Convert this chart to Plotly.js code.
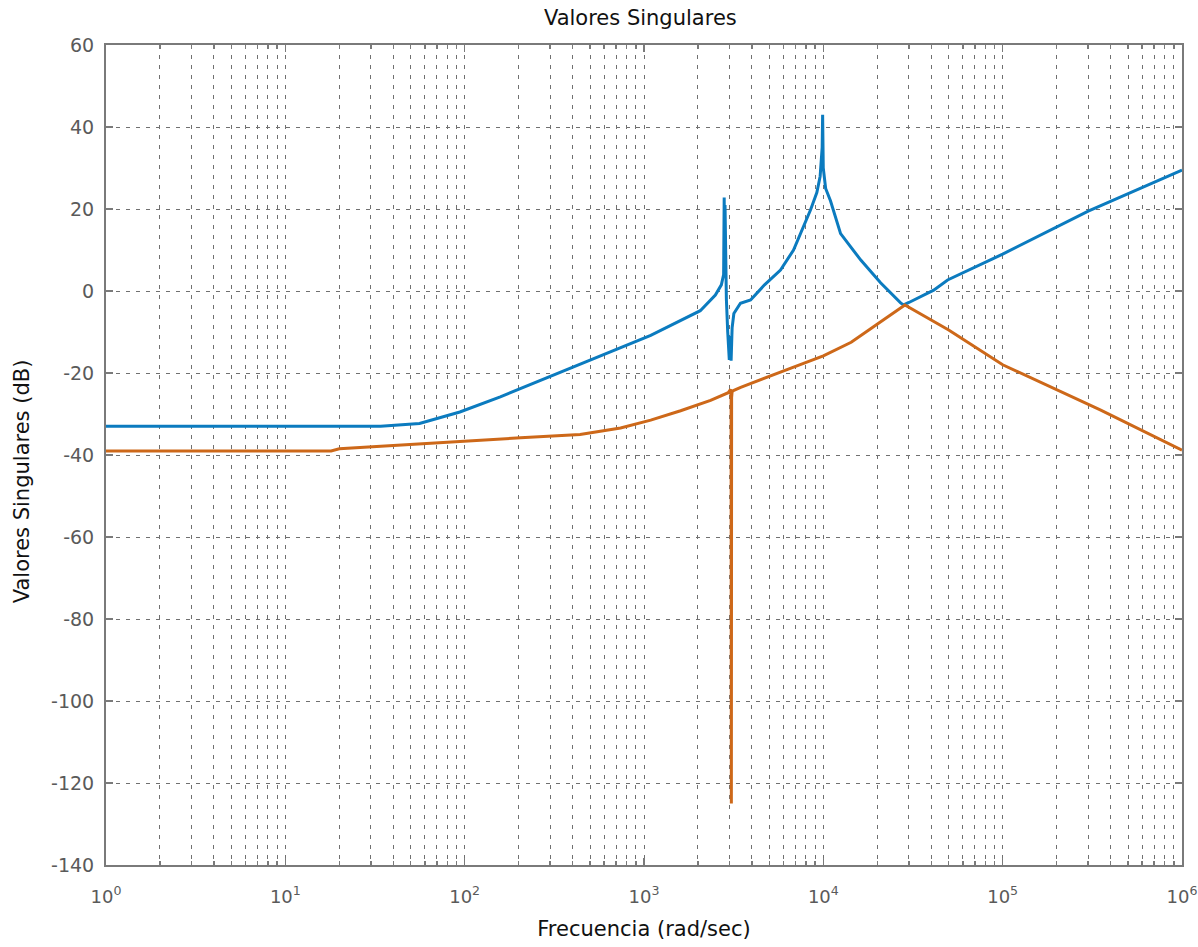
<!DOCTYPE html>
<html>
<head>
<meta charset="utf-8">
<script src="https://cdn.plot.ly/plotly-3.0.1.min.js"></script>
<style>html,body{margin:0;padding:0;background:#fff;}#chart{width:1198px;height:947px;}</style>
</head>
<body>
<div id="chart"></div>
<script>
// Data
const sv1Freq = [1, 34, 56, 94, 158, 300, 570, 1090, 2060, 2500, 2700, 2780, 2800, 2815, 2830, 2850, 2880, 2930, 2990, 3030, 3060, 3100, 3170, 3450, 3930, 4700, 5770, 6820, 8490, 9200, 9600, 9850, 9910, 9990, 10100, 10300, 10960, 12480, 16130, 20850, 26970, 28040, 30000, 41250, 49330, 100000, 300000, 1000000];
const sv1Db   = [-33, -33, -32.3, -29.5, -25.8, -20.8, -15.8, -10.8, -4.8, -1, 1.5, 4, 22.8, 6, 21, 8, -2, -10, -16.8, -11, -17, -9, -5.5, -3, -2.2, 1.5, 5.1, 10, 19.8, 24, 28, 35, 43, 30, 28, 25, 22, 14, 7.6, 2, -2.9, -3.4, -2.8, 0.2, 2.7, 9, 19.5, 29.5];

const sv2Freq = [1, 18, 20, 44, 94, 205, 440, 740, 1090, 1600, 2350, 2950, 3040, 3060, 3070, 3080, 3100, 3150, 3460, 4470, 6600, 10000, 14300, 20700, 28500, 50000, 100000, 350000, 1000000];
const sv2Db   = [-39, -39, -38.5, -37.5, -36.7, -35.8, -35, -33.4, -31.5, -29.2, -26.7, -24.8, -24, -26, -125, -26, -24.5, -24.3, -23.5, -21.7, -18.8, -15.8, -12.5, -7.6, -3.4, -9.5, -18, -29, -38.8];

const xTickVals = [1, 10, 100, 1000, 10000, 100000, 1000000];
const xTickText = ['10<sup>0</sup>', '10<sup>1</sup>', '10<sup>2</sup>', '10<sup>3</sup>', '10<sup>4</sup>', '10<sup>5</sup>', '10<sup>6</sup>'];
const yTickVals = [-140, -120, -100, -80, -60, -40, -20, 0, 20, 40, 60];
const yTickText = ['-140', '-120', '-100', '-80', '-60', '-40', '-20', '0', '20', '40', '60'];

const titleText = 'Valores Singulares';
const xTitle = 'Frecuencia (rad/sec)';
const yTitle = 'Valores Singulares (dB)';

const traces = [
  {x: sv1Freq, y: sv1Db, type: 'scatter', mode: 'lines', line: {color: '#0b7bbf', width: 3}},
  {x: sv2Freq, y: sv2Db, type: 'scatter', mode: 'lines', line: {color: '#cd6819', width: 3}}
];

const FONT = 'DejaVu Sans, Verdana, sans-serif';
const gridCol = '#707070';
const axisCol = '#7a7a7a';
const dash = '4px,6px';

const layout = {
  width: 1198, height: 947,
  paper_bgcolor: '#ffffff', plot_bgcolor: '#ffffff',
  margin: {l: 106, r: 16, t: 45, b: 82},
  showlegend: false,
  title: {text: titleText, x: 0.5345, xanchor: 'center', y: 0.981, yanchor: 'middle',
          font: {family: FONT, size: 21, color: '#111111'}},
  xaxis: {
    type: 'log', range: [0, 6],
    tickvals: xTickVals, ticktext: xTickText,
    tickfont: {family: FONT, size: 18, color: '#5a5a5a'},
    showline: true, linecolor: axisCol, linewidth: 2, mirror: 'ticks',
    ticks: 'inside', ticklen: 7, tickcolor: axisCol, tickwidth: 1.5,
    showgrid: true, gridcolor: gridCol, griddash: dash, gridwidth: 1,
    minor: {dtick: 'D1', showgrid: true, gridcolor: gridCol, griddash: dash, gridwidth: 1,
            ticks: 'inside', ticklen: 4, tickcolor: axisCol},
    zeroline: false, ticklabelstandoff: 14,
    title: {text: xTitle, standoff: 16, font: {family: FONT, size: 21, color: '#111111'}}
  },
  yaxis: {
    range: [-140, 60],
    tickvals: yTickVals, ticktext: yTickText,
    tickfont: {family: FONT, size: 19, color: '#5a5a5a'},
    showline: true, linecolor: axisCol, linewidth: 2, mirror: 'ticks',
    ticks: 'inside', ticklen: 7, tickcolor: axisCol, tickwidth: 1.5,
    showgrid: true, gridcolor: gridCol, griddash: dash, gridwidth: 1,
    zeroline: false, ticklabelstandoff: 6
  },
  annotations: [{
    text: yTitle, xref: 'paper', yref: 'paper', x: -0.078, y: 0.468,
    xanchor: 'center', yanchor: 'middle', textangle: -90, showarrow: false,
    font: {family: FONT, size: 21, color: '#111111'}
  }]
};

Plotly.newPlot('chart', traces, layout, {displayModeBar: false, staticPlot: true});
</script>
</body>
</html>
